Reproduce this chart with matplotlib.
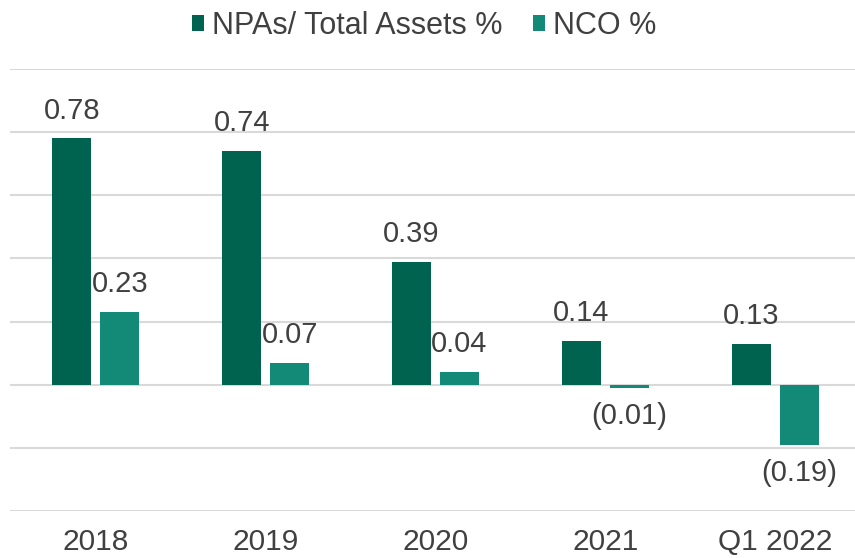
import matplotlib.pyplot as plt
import numpy as np

# chart values
categories = ['2018', '2019', '2020', '2021', 'Q1 2022']
npa_pct = [0.78, 0.74, 0.39, 0.14, 0.13]
nco_pct = [0.23, 0.07, 0.04, -0.01, -0.19]
series_names = ['NPAs/ Total Assets %', 'NCO %']

dark = '#00634F'
teal = '#138A78'
txt = '#404040'

plt.rcParams['font.family'] = ['Liberation Sans', 'DejaVu Sans']

fig = plt.figure(figsize=(8.55, 5.58), dpi=100)
ax = fig.add_axes([10 / 855, 1 - 511 / 558, 845 / 855, (511 - 69) / 558])

x = np.arange(len(categories))
w = 0.23
off = 0.141
b1 = ax.bar(x - off, npa_pct, w, color=dark, label=series_names[0], zorder=3)
b2 = ax.bar(x + off, nco_pct, w, color=teal, label=series_names[1], zorder=3)

def fmt(v):
    return '({:.2f})'.format(-v) if v < 0 else '{:.2f}'.format(v)

for bars, vals in ((b1, npa_pct), (b2, nco_pct)):
    for b, v in zip(bars, vals):
        cx = b.get_x() + b.get_width() / 2
        if v >= 0:
            ax.annotate(fmt(v), (cx, v), xytext=(0, 10), textcoords='offset points',
                        ha='center', va='bottom', fontsize=21, color=txt)
        else:
            ax.annotate(fmt(v), (cx, v), xytext=(0, -10), textcoords='offset points',
                        ha='center', va='top', fontsize=21, color=txt)

ax.set_ylim(-0.4, 1.0)
ax.set_xlim(-86 / 170, 4 + 80 / 170)
ax.set_yticks(np.arange(-0.4, 1.01, 0.2))
ax.yaxis.grid(True, color='#D9D9D9', linewidth=1.5, zorder=0)
ax.tick_params(axis='y', left=False, labelleft=False)
ax.set_xticks(x)
ax.set_xticklabels(categories, fontsize=21.5, color=txt)
ax.tick_params(axis='x', length=0, pad=12)
for s in ax.spines.values():
    s.set_visible(False)

fig.legend(loc='center', bbox_to_anchor=(424 / 855, 1 - 26 / 558), ncol=2, frameon=False,
           fontsize=22, labelcolor=txt, handlelength=0.4, handleheight=0.4,
           handletextpad=0.25, columnspacing=1.0)

fig.savefig('out.png', dpi=100)
